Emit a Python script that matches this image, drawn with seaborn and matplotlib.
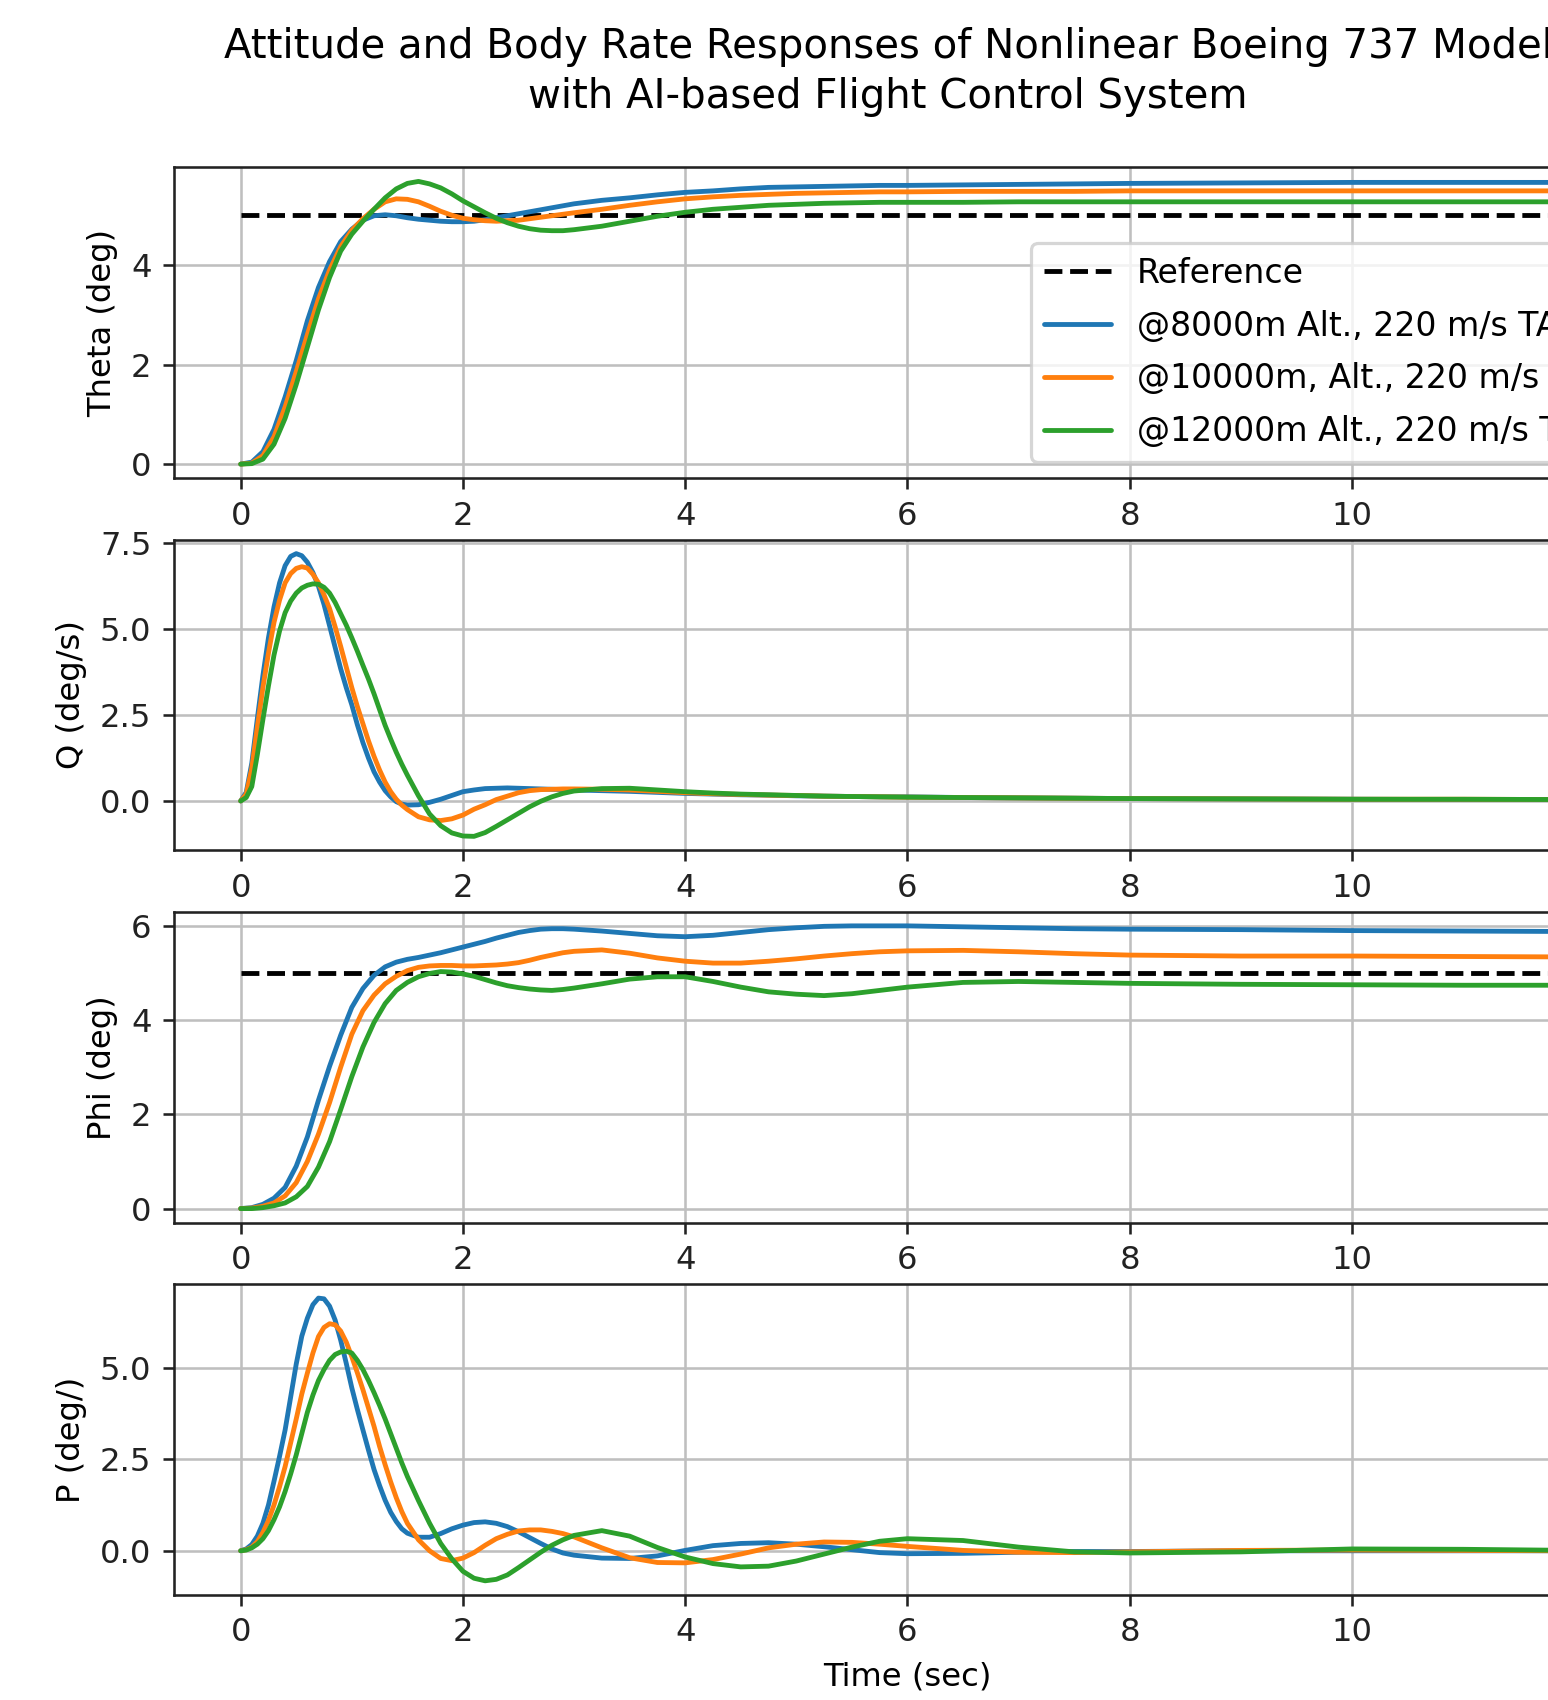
import matplotlib
matplotlib.use('Agg')
import matplotlib.pyplot as plt
import seaborn as sns

# time axis for the attitude panels (sec)
t = [0.0, 0.1, 0.2, 0.3, 0.4, 0.5, 0.6, 0.7, 0.8, 0.9,
     1.0, 1.1, 1.2, 1.3, 1.4, 1.5, 1.6, 1.7, 1.8, 1.9,
     2.0, 2.1, 2.2, 2.3, 2.4, 2.5, 2.6, 2.7, 2.8, 2.9,
     3.0,
     3.25, 3.5, 3.75, 4.0, 4.25, 4.5, 4.75, 5.0, 5.25, 5.5, 5.75, 6.0,
     6.5, 7.0, 7.5, 8.0,
     9.0, 10.0, 11.0, 12.0]

# finer time axis for the body rate panels (sec)
t_rate = [0.0, 0.05, 0.1, 0.15, 0.2, 0.25, 0.3, 0.35, 0.4, 0.45,
          0.5, 0.55, 0.6, 0.65, 0.7, 0.75, 0.8, 0.85, 0.9, 0.95,
          1.0, 1.05, 1.1, 1.15, 1.2, 1.25, 1.3, 1.35, 1.4, 1.45,
          1.5,
          1.6, 1.7, 1.8, 1.9, 2.0, 2.1, 2.2, 2.3, 2.4, 2.5, 2.6, 2.7, 2.8, 2.9, 3.0,
          3.25, 3.5, 3.75, 4.0, 4.25, 4.5, 4.75, 5.0, 5.25, 5.5, 5.75, 6.0,
          6.5, 7.0, 7.5, 8.0,
          9.0, 10.0, 11.0, 12.0]

# reference command (deg)
ref_t = [0.0, 12.0]
ref_deg = [5.0, 5.0]

labels = ['@8000m Alt., 220 m/s TAS',
          '@10000m, Alt., 220 m/s TAS',
          '@12000m Alt., 220 m/s TAS']
colors = ['#1f77b4', '#ff7f0e', '#2ca02c']

# Theta (deg)
theta_8000 = [0, 0.04, 0.25, 0.7, 1.35, 2.08, 2.88, 3.55, 4.07, 4.47,
              4.72, 4.9, 4.99, 5.01, 4.99, 4.95, 4.92, 4.9, 4.88, 4.87,
              4.87, 4.88, 4.91, 4.95, 4.99, 5.03, 5.07, 5.11, 5.15, 5.19,
              5.23,
              5.3, 5.35, 5.41, 5.46, 5.49, 5.53, 5.56, 5.57, 5.58, 5.59, 5.6, 5.6,
              5.61, 5.62, 5.63, 5.64,
              5.65, 5.66, 5.66, 5.66]
theta_10000 = [0, 0.02, 0.17, 0.55, 1.15, 1.86, 2.6, 3.32, 3.9, 4.37,
               4.7, 4.93, 5.12, 5.27, 5.33, 5.32, 5.27, 5.18, 5.08, 5.0,
               4.94, 4.91, 4.89, 4.88, 4.89, 4.9, 4.93, 4.96, 4.99, 5.02,
               5.05,
               5.12, 5.2, 5.27, 5.33, 5.37, 5.4, 5.42, 5.44, 5.45, 5.46, 5.47, 5.47,
               5.48, 5.48, 5.48, 5.49,
               5.49, 5.49, 5.49, 5.49]
theta_12000 = [0, 0.01, 0.1, 0.4, 0.92, 1.6, 2.35, 3.1, 3.75, 4.28,
               4.62, 4.88, 5.12, 5.35, 5.53, 5.64, 5.68, 5.63, 5.55, 5.43,
               5.29, 5.17, 5.05, 4.94, 4.85, 4.78, 4.73, 4.7, 4.69, 4.69,
               4.71,
               4.78, 4.88, 4.98, 5.06, 5.12, 5.16, 5.2, 5.22, 5.24, 5.25, 5.26, 5.26,
               5.26, 5.27, 5.27, 5.27,
               5.27, 5.27, 5.27, 5.27]

# Q (deg/s), on t_rate
q_8000 = [0, 0.25, 1.1, 2.4, 3.65, 4.75, 5.65, 6.35, 6.85, 7.12,
          7.2, 7.14, 6.95, 6.65, 6.25, 5.72, 5.1, 4.47, 3.85, 3.3,
          2.8, 2.22, 1.7, 1.25, 0.85, 0.55, 0.3, 0.12, -0.02, -0.09,
          -0.12,
          -0.11, -0.04, 0.05, 0.16, 0.27, 0.32, 0.36, 0.37, 0.38, 0.37, 0.36, 0.35, 0.34, 0.33, 0.32,
          0.3, 0.28, 0.25, 0.22, 0.2, 0.18, 0.17, 0.15, 0.14, 0.13, 0.12, 0.12,
          0.1, 0.09, 0.08, 0.07,
          0.06, 0.05, 0.04, 0.04]
q_10000 = [0, 0.2, 0.95, 2.15, 3.3, 4.3, 5.2, 5.85, 6.35, 6.62,
           6.77, 6.82, 6.78, 6.6, 6.35, 6.0, 5.6, 5.07, 4.5, 3.9,
           3.3, 2.75, 2.25, 1.75, 1.3, 0.9, 0.55, 0.27, 0.05, -0.12,
           -0.25,
           -0.46, -0.55, -0.57, -0.52, -0.41, -0.24, -0.11, 0.04, 0.14, 0.24, 0.3, 0.33, 0.34, 0.35, 0.35,
           0.34, 0.32, 0.28, 0.24, 0.21, 0.19, 0.17, 0.16, 0.14, 0.13, 0.12, 0.11,
           0.1, 0.09, 0.08, 0.07,
           0.06, 0.05, 0.05, 0.04]
q_12000 = [0, 0.1, 0.42, 1.35, 2.37, 3.35, 4.25, 4.95, 5.48, 5.82,
           6.05, 6.2, 6.28, 6.32, 6.31, 6.22, 6.05, 5.78, 5.45, 5.12,
           4.75, 4.36, 3.95, 3.55, 3.12, 2.66, 2.2, 1.8, 1.42, 1.07,
           0.75,
           0.15, -0.38, -0.72, -0.93, -1.02, -1.03, -0.92, -0.74, -0.55, -0.36, -0.17, -0.01, 0.12, 0.22, 0.29,
           0.36, 0.37, 0.32, 0.27, 0.23, 0.2, 0.18, 0.16, 0.14, 0.13, 0.12, 0.11,
           0.1, 0.09, 0.08, 0.07,
           0.06, 0.05, 0.05, 0.04]

# Phi (deg)
phi_8000 = [0, 0.02, 0.09, 0.22, 0.45, 0.9, 1.52, 2.3, 3.02, 3.68,
            4.27, 4.67, 4.95, 5.13, 5.23, 5.29, 5.33, 5.38, 5.43, 5.49,
            5.55, 5.61, 5.67, 5.74, 5.8, 5.86, 5.9, 5.93, 5.94, 5.94,
            5.93,
            5.89, 5.84, 5.79, 5.77, 5.8, 5.86, 5.92, 5.96, 5.99, 6.0, 6.0, 6.0,
            5.98, 5.96, 5.94, 5.93,
            5.92, 5.9, 5.89, 5.88]
phi_10000 = [0, 0.01, 0.05, 0.12, 0.27, 0.55, 1.0, 1.58, 2.25, 3.0,
             3.7, 4.2, 4.53, 4.77, 4.93, 5.05, 5.12, 5.15, 5.16, 5.16,
             5.15, 5.15, 5.16, 5.17, 5.19, 5.22, 5.27, 5.33, 5.38, 5.43,
             5.46,
             5.49, 5.42, 5.32, 5.25, 5.21, 5.21, 5.25, 5.3, 5.36, 5.41, 5.45, 5.47,
             5.48, 5.45, 5.41, 5.38,
             5.36, 5.36, 5.35, 5.34]
phi_12000 = [0, 0.0, 0.02, 0.06, 0.12, 0.25, 0.47, 0.88, 1.42, 2.1,
             2.8, 3.43, 3.95, 4.35, 4.63, 4.8, 4.92, 4.99, 5.03, 5.02,
             4.98, 4.93, 4.86, 4.79, 4.73, 4.69, 4.66, 4.64, 4.63, 4.65,
             4.68,
             4.77, 4.87, 4.92, 4.92, 4.82, 4.7, 4.6, 4.55, 4.52, 4.56, 4.63, 4.7,
             4.8, 4.82, 4.8, 4.78,
             4.76, 4.75, 4.74, 4.74]

# P (deg/s), on t_rate
p_8000 = [0, 0.05, 0.17, 0.4, 0.75, 1.25, 1.9, 2.58, 3.3, 4.2,
          5.1, 5.86, 6.35, 6.72, 6.9, 6.88, 6.68, 6.3, 5.75, 5.12,
          4.45, 3.86, 3.3, 2.75, 2.22, 1.78, 1.38, 1.05, 0.8, 0.6,
          0.48,
          0.37, 0.37, 0.47, 0.6, 0.7, 0.77, 0.79, 0.75, 0.66, 0.52, 0.36, 0.2, 0.05, -0.06, -0.12,
          -0.2, -0.21, -0.14, 0.01, 0.14, 0.2, 0.22, 0.18, 0.11, 0.03, -0.05, -0.08,
          -0.07, -0.04, -0.02, -0.02,
          0.0, 0.0, 0.0, 0.0]
p_10000 = [0, 0.03, 0.1, 0.25, 0.5, 0.83, 1.25, 1.75, 2.3, 2.95,
           3.6, 4.28, 4.85, 5.4, 5.85, 6.1, 6.2, 6.17, 6.0, 5.7,
           5.3, 4.86, 4.4, 3.9, 3.4, 2.85, 2.35, 1.88, 1.45, 1.07,
           0.75,
           0.3, 0.0, -0.21, -0.27, -0.2, -0.05, 0.15, 0.33, 0.45, 0.54, 0.57, 0.57, 0.53, 0.47, 0.38,
           0.08, -0.19, -0.32, -0.33, -0.24, -0.09, 0.08, 0.18, 0.24, 0.23, 0.18, 0.12,
           0.01, -0.04, -0.05, -0.03,
           0.01, 0.02, 0.01, 0.0]
p_12000 = [0, 0.02, 0.08, 0.18, 0.33, 0.55, 0.85, 1.2, 1.62, 2.1,
           2.62, 3.2, 3.78, 4.25, 4.65, 4.95, 5.2, 5.36, 5.43, 5.45,
           5.4, 5.2, 4.95, 4.65, 4.32, 3.97, 3.6, 3.2, 2.8, 2.4,
           2.03,
           1.37, 0.75, 0.2, -0.22, -0.56, -0.75, -0.82, -0.78, -0.66, -0.46, -0.25, -0.04, 0.15, 0.3, 0.42,
           0.55, 0.4, 0.09, -0.17, -0.35, -0.44, -0.42, -0.28, -0.09, 0.1, 0.26, 0.33,
           0.28, 0.1, -0.03, -0.06,
           -0.03, 0.05, 0.04, 0.01]

panels = [
    ('Theta (deg)', t, [theta_8000, theta_10000, theta_12000], True),
    ('Q (deg/s)', t_rate, [q_8000, q_10000, q_12000], False),
    ('Phi (deg)', t, [phi_8000, phi_10000, phi_12000], True),
    ('P (deg/)', t_rate, [p_8000, p_10000, p_12000], False),
]

sns.set_style('ticks', {'axes.grid': True, 'grid.color': '#bfbfbf',
                        'axes.edgecolor': '#222222', 'text.color': 'black',
                        'xtick.color': '#222222', 'ytick.color': '#222222',
                        'axes.labelcolor': 'black'})
plt.rcParams['font.family'] = ['DejaVu Sans']

DPI = 232
fig, axes = plt.subplots(4, 1, figsize=(1548 / DPI, 1700 / DPI), dpi=DPI)
# the right edge of the axes runs past the canvas, as in the cropped original
fig.subplots_adjust(left=0.1124, right=1.06, top=0.9016, bottom=0.0618, hspace=0.197)

for i, (ax, (ylab, tt, series, has_ref)) in enumerate(zip(axes, panels)):
    if has_ref:
        sns.lineplot(x=ref_t, y=ref_deg, ax=ax, color='black', linestyle='--',
                     linewidth=1.5, label='Reference' if i == 0 else None,
                     estimator=None, sort=False)
    for vals, col, lab in zip(series, colors, labels):
        sns.lineplot(x=tt, y=vals, ax=ax, color=col, linewidth=1.5,
                     label=lab if i == 0 else None, estimator=None, sort=False)
    ax.set_ylabel(ylab)
    ax.set_xlabel('')
    ax.grid(True)
    if ax.get_legend() is not None and i != 0:
        ax.get_legend().remove()

axes[0].legend(loc='lower right', fontsize=10.3, labelspacing=0.6)
axes[-1].set_xlabel('Time (sec)')

fig.suptitle('Attitude and Body Rate Responses of Nonlinear Boeing 737 Model\n'
             'with AI-based Flight Control System',
             x=888 / 1548, y=1 - 72 / 1700, va='center', fontsize=12.5,
             linespacing=1.3)

fig.savefig('out.png', dpi=DPI)
